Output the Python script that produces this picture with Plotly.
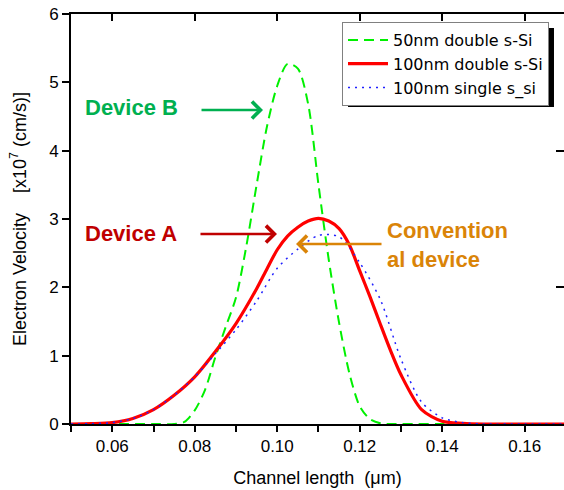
import plotly.graph_objects as go

# ---------------- data ----------------
x_red = [0.05, 0.055, 0.06, 0.065, 0.07, 0.075, 0.08, 0.085, 0.09, 0.095, 0.0975, 0.10,
         0.1025, 0.105, 0.1075, 0.11, 0.1125, 0.115, 0.1175, 0.12, 0.1225, 0.125, 0.1275,
         0.13, 0.135, 0.14, 0.145, 0.15, 0.16, 0.17]
y_red = [0.0, 0.005, 0.02, 0.08, 0.21, 0.42, 0.69, 1.06, 1.47, 1.98, 2.27, 2.55,
         2.75, 2.88, 2.97, 3.01, 2.97, 2.86, 2.62, 2.24, 1.86, 1.46, 1.07,
         0.72, 0.21, 0.04, 0.01, 0.0, 0.0, 0.0]

x_blue = [0.05, 0.055, 0.06, 0.065, 0.07, 0.075, 0.08, 0.085, 0.09, 0.095, 0.10, 0.105,
          0.11, 0.115, 0.12, 0.125, 0.13, 0.135, 0.14, 0.145, 0.15, 0.16, 0.17]
y_blue = [0.0, 0.005, 0.02, 0.08, 0.21, 0.42, 0.69, 1.03, 1.38, 1.80, 2.28, 2.56,
          2.76, 2.74, 2.36, 1.82, 0.95, 0.32, 0.09, 0.02, 0.0, 0.0, 0.0]

x_green = [0.05, 0.06, 0.07, 0.075, 0.0775, 0.08, 0.0825, 0.085, 0.0875, 0.09, 0.0925,
           0.095, 0.0975, 0.10, 0.1025, 0.105, 0.1075, 0.11, 0.1125, 0.115, 0.1175,
           0.12, 0.1225, 0.125, 0.1275, 0.14, 0.17]
y_green = [0.0, 0.0, 0.0, 0.0, 0.03, 0.20, 0.50, 0.98, 1.42, 1.85, 2.60,
           3.50, 4.35, 4.95, 5.27, 5.20, 4.68, 3.50, 2.40, 1.48, 0.74,
           0.26, 0.07, 0.01, 0.0, 0.0, 0.0]

names = ["50nm double s-Si", "100nm double s-Si", "100nm single s_si"]

x_range = [0.05, 0.16952]
y_range = [0, 6]

fig = go.Figure()
fig.add_trace(go.Scatter(x=x_green, y=y_green, mode="lines", name=names[0],
                         line=dict(color="#00F000", width=2, dash="10px,6px", shape="spline", smoothing=0.8)))
fig.add_trace(go.Scatter(x=x_red, y=y_red, mode="lines", name=names[1],
                         line=dict(color="#FF0000", width=3.2, shape="spline", smoothing=0.8)))
fig.add_trace(go.Scatter(x=x_blue, y=y_blue, mode="lines", name=names[2],
                         line=dict(color="#2020FF", width=1.5, dash="2px,5px", shape="spline", smoothing=0.8)))
# helper trace for the mirrored (top/right) axes
fig.add_trace(go.Scatter(x=[x_range[0]], y=[0], xaxis="x2", yaxis="y2", mode="markers",
                         marker=dict(opacity=0), showlegend=False, hoverinfo="skip"))

font = "Liberation Sans, Arial, sans-serif"

fig.update_layout(
    width=564, height=490,
    margin=dict(l=71, r=0, t=14, b=66, autoexpand=False),
    paper_bgcolor="white", plot_bgcolor="white",
    font=dict(family=font, color="black", size=17),
    showlegend=True,
    legend=dict(x=0.5497, y=0.9805, xanchor="left", yanchor="top",
                bgcolor="white", bordercolor="#808080", borderwidth=1,
                itemwidth=40,
                font=dict(size=16, family="DejaVu Sans, sans-serif"), tracegroupgap=0),
    xaxis=dict(range=x_range, showgrid=False, zeroline=False, automargin=False,
               showline=True, linecolor="black", linewidth=2,
               ticks="outside", ticklen=6, tickwidth=1.5, tickcolor="black",
               tick0=0, dtick=0.02, tickformat=".2f",
               minor=dict(dtick=0.01, ticks="outside", ticklen=6, tickwidth=1.5, tickcolor="black"),
               tickfont=dict(size=17),
               title=dict(text="Channel length  (\u03bcm)", font=dict(size=18), standoff=16)),
    yaxis=dict(range=y_range, showgrid=False, zeroline=False, automargin=False,
               showline=True, linecolor="black", linewidth=2,
               ticks="outside", ticklen=7, tickwidth=1.5, tickcolor="black",
               dtick=1, tickfont=dict(size=17),
               title=dict(text="Electron Velocity \u00a0 \u00a0[x10<sup>7</sup> (cm/s)]",
                          font=dict(size=18), standoff=18)),
    xaxis2=dict(range=x_range, overlaying="x", side="top", showgrid=False, zeroline=False,
                automargin=False,
                showline=True, linecolor="black", linewidth=2,
                ticks="inside", ticklen=7, tickwidth=1.5, tickcolor="black",
                tick0=0, dtick=0.02, showticklabels=False),
    yaxis2=dict(range=y_range, overlaying="y", side="right", anchor="x2", showgrid=False,
                zeroline=False, showline=False, automargin=False,
                ticks="inside", ticklen=8, tickwidth=1.5, tickcolor="black",
                dtick=2, showticklabels=False),
)

# legend drop shadow
fig.add_shape(type="rect", xref="paper", yref="paper",
              x0=0.5619, x1=0.9797, y0=0.7732, y1=0.9659,
              fillcolor="black", line=dict(width=0), layer="above")

# annotations
green_t = "#00B050"
red_t = "#C00000"
orange_t = "#DA8408"
fig.add_annotation(x=0.0529, y=4.625, xref="x", yref="y", text="<b>Device B</b>",
                   showarrow=False, xanchor="left", yanchor="middle",
                   font=dict(size=22, color=green_t, family=font))
fig.add_annotation(x=0.0529, y=2.788, xref="x", yref="y", text="<b>Device A</b>",
                   showarrow=False, xanchor="left", yanchor="middle",
                   font=dict(size=22, color=red_t, family=font))
fig.add_annotation(x=0.1261, y=2.623, xref="x", yref="y",
                   text="<b>Convention<br>al device</b>", align="left",
                   showarrow=False, xanchor="left", yanchor="middle",
                   font=dict(size=22, color=orange_t, family=font))

# arrows
fig.add_annotation(x=0.09655, y=4.595, xref="x", yref="y", ax=-63, ay=0, text="",
                   showarrow=True, arrowhead=4, arrowsize=1.3, arrowwidth=2.5, arrowcolor=green_t)
fig.add_annotation(x=0.09994, y=2.78, xref="x", yref="y", ax=-78, ay=0, text="",
                   showarrow=True, arrowhead=4, arrowsize=1.3, arrowwidth=2.5, arrowcolor=red_t)
fig.add_annotation(x=0.10455, y=2.634, xref="x", yref="y", ax=87, ay=0, text="",
                   showarrow=True, arrowhead=4, arrowsize=1.3, arrowwidth=2.5, arrowcolor=orange_t)

fig.write_html("out.html", config={"displayModeBar": False},
               post_script="document.body.style.margin='0';document.body.style.padding='0';")
